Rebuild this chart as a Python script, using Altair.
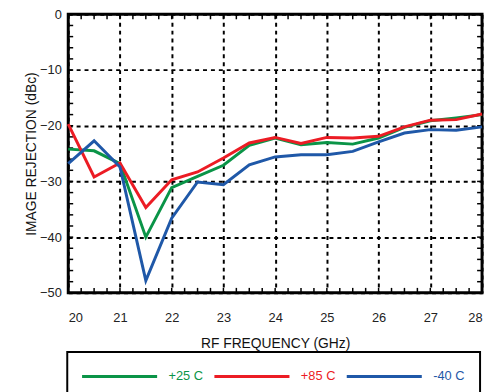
import altair as alt
import pandas as pd

freq = [20, 20.5, 21, 21.5, 22, 22.5, 23, 23.5, 24, 24.5, 25, 25.5, 26, 26.5, 27, 27.5, 28]
t_p25 = [-24.2, -24.5, -26.8, -40.0, -31.1, -29.1, -27.1, -23.5, -22.2, -23.4, -23.0, -23.3, -22.2, -20.3, -19.1, -18.6, -18.0]
t_p85 = [-19.7, -29.2, -26.7, -34.7, -29.7, -28.3, -25.8, -23.1, -22.1, -23.2, -22.1, -22.2, -21.9, -20.2, -19.0, -18.9, -17.9]
t_m40 = [-26.8, -22.7, -27.4, -47.8, -36.6, -30.1, -30.6, -27.0, -25.6, -25.2, -25.2, -24.6, -22.9, -21.3, -20.7, -20.8, -20.2]

series = ["+25 C", "+85 C", "-40 C"]
colors = ["#0a9447", "#ec1c24", "#1f58a8"]

x_major = [20, 21, 22, 23, 24, 25, 26, 27, 28]
y_major = [-50, -40, -30, -20, -10, 0]
x_minor = [20 + 0.25 * i for i in range(33)]
y_minor = [-50 + 2 * i for i in range(26)]

rows = []
for name, vals in zip(series, [t_p25, t_p85, t_m40]):
    for f, v in zip(freq, vals):
        rows.append({"freq": f, "val": v, "series": name})
df = pd.DataFrame(rows)

W, H = 419, 282

label_color_expr = (
    "datum.label === '+25 C' ? '#0a9447' : "
    "(datum.label === '+85 C' ? '#ec1c24' : '#1f58a8')"
)

xscale = alt.Scale(domain=[20, 28], nice=False)
yscale = alt.Scale(domain=[-50, 0], nice=False)

lines = alt.Chart(df).mark_line(strokeWidth=3).encode(
    x=alt.X("freq:Q", scale=xscale,
            axis=alt.Axis(title="RF FREQUENCY (GHz)", values=x_major, format="d",
                          grid=True, gridColor="black", gridDash=[4, 4], gridWidth=2,
                          ticks=False, tickSize=0, domain=False,
                          labelPadding=19, titlePadding=12)),
    y=alt.Y("val:Q", scale=yscale,
            axis=alt.Axis(title="IMAGE REJECTION (dBc)", values=y_major, format="d",
                          grid=True, gridColor="black", gridDash=[4, 4], gridWidth=2,
                          ticks=False, tickSize=0, domain=False,
                          labelPadding=7, titlePadding=1)),
    color=alt.Color("series:N", scale=alt.Scale(domain=series, range=colors),
                    legend=alt.Legend(title=None, orient="none", legendX=-1, legendY=342,
                                      direction="horizontal", columns=3,
                                      symbolType="M-5,0H5", symbolSize=231,
                                      symbolStrokeWidth=3, symbolOffset=28.5,
                                      labelFontSize=13,
                                      labelOffset=40, columnPadding=5,
                                      labelColor=alt.ExprRef(label_color_expr),
                                      strokeColor="black",
                                      padding=15)),
    detail="series:N",
)

xt = pd.DataFrame({"t": x_minor})
yt = pd.DataFrame({"t": y_minor})

tick_bottom = alt.Chart(xt).mark_rule(color="black", strokeWidth=1.5).encode(
    x=alt.X("t:Q", scale=xscale), y=alt.value(H), y2=alt.value(H - 5))
tick_top = alt.Chart(xt).mark_rule(color="black", strokeWidth=1.5).encode(
    x=alt.X("t:Q", scale=xscale), y=alt.value(0), y2=alt.value(5))
tick_left = alt.Chart(yt).mark_rule(color="black", strokeWidth=1.5).encode(
    y=alt.Y("t:Q", scale=yscale), x=alt.value(0), x2=alt.value(5))
tick_right = alt.Chart(yt).mark_rule(color="black", strokeWidth=1.5).encode(
    y=alt.Y("t:Q", scale=yscale), x=alt.value(W), x2=alt.value(W - 5))

chart = alt.layer(tick_bottom, tick_top, tick_left, tick_right, lines).properties(
    width=W, height=H,
    background="white",
    autosize=alt.AutoSizeParams(type="none"),
    padding={"left": 61, "top": 4, "right": 3, "bottom": 98},
).configure_view(
    stroke="black", strokeWidth=3
).configure_axis(
    labelFont="Liberation Sans", labelFontSize=13, labelColor="#222222",
    titleFont="Liberation Sans", titleFontSize=14, titleColor="#111111",
    titleFontWeight="normal",
).configure_legend(
    labelFont="Liberation Sans", strokeWidth=2,
)

chart.save("out.html", embed_options={"renderer": "svg", "actions": False})
